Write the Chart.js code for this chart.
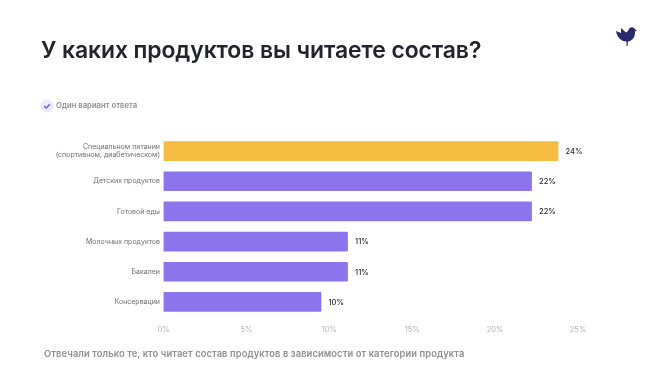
<!DOCTYPE html>
<html lang="ru">
<head>
<meta charset="utf-8">
<title>У каких продуктов вы читаете состав?</title>
<script src="https://cdn.jsdelivr.net/npm/chart.js@4"></script>
<style>
    html, body { margin: 0; padding: 0; background: #fff; }
    #wrap { position: relative; width: 650px; height: 367px; overflow: hidden; font-family: Inter, sans-serif; }
    #myChart { position: absolute; left: 0; top: 0; }
    #title { position: absolute; left: 41px; top: 36px; font-size: 22.9px; font-weight: 600; letter-spacing: -0.08px; color: #24242c; white-space: nowrap; }
    #note { position: absolute; left: 56px; top: 101px; font-size: 7.7px; font-weight: 600; color: #8e8e96; white-space: nowrap; }
    #foot { position: absolute; left: 44px; top: 348px; font-size: 9.4px; font-weight: 600; letter-spacing: 0.08px; color: #8f8f95; white-space: nowrap; }
    #check { position: absolute; left: 40px; top: 99px; }
    #logo { position: absolute; left: 615px; top: 26px; }
</style>
</head>
<body>
<div id="wrap">
    <canvas id="myChart" width="650" height="367"></canvas>
    <div id="title">У каких продуктов вы читаете состав?</div>
    <svg id="check" width="14" height="14" viewBox="0 0 14 14">
        <circle cx="7" cy="7" r="6.5" fill="#ece9fb"></circle>
        <path d="M4.2 7 L6.2 9 L9.8 5.2" fill="none" stroke="#6f5bd0" stroke-width="1.5"></path>
    </svg>
    <div id="note">Один вариант ответа</div>
    <svg id="logo" width="22" height="21" viewBox="0 0 22 21">
        <path d="M1 5 L6 7 L6 2 L11 6.5 L13 5 C14 0.5 19 0 20 3.5 L22 4.5 L20 5.5 C20.5 11 17 15 13 15.5 L12.5 20 L11.5 20 L11.5 15.5 C6 15.5 2 11 1 5 Z" fill="#2a2a6e"></path>
    </svg>
    <div id="foot">Отвечали только те, кто читает состав продуктов в зависимости от категории продукта</div>
</div>
<script>
const categories = [
    ['Специальном питании', '(спортивном, диабетическом)'],
    'Детских продуктов',
    'Готовой еды',
    'Молочных продуктов',
    'Бакалеи',
    'Консервации'
];
const values = [23.8, 22.2, 22.2, 11.1, 11.1, 9.5];
const valueLabels = ['24%', '22%', '22%', '11%', '11%', '10%'];
const barColors = ['#f4bc41', '#8b74ec', '#8b74ec', '#8b74ec', '#8b74ec', '#8b74ec'];

// подписи значений справа от баров
const barLabels = {
    id: 'barLabels',
    afterDatasetsDraw(chart) {
        const ctx = chart.ctx;
        const bars = chart.getDatasetMeta(0).data;
        ctx.save();
        ctx.font = '500 7.5px Inter, sans-serif';
        ctx.fillStyle = '#2b2b33';
        ctx.textBaseline = 'middle';
        for (let i = 0; i < bars.length; i++) {
            ctx.fillText(valueLabels[i], bars[i].x + 7.5, bars[i].y + 0.5);
        }
        ctx.restore();
    }
};

new Chart(document.getElementById('myChart'), {
    type: 'bar',
    plugins: [barLabels],
    data: {
        labels: categories,
        datasets: [{
            data: values,
            backgroundColor: barColors,
            barThickness: 19,
            borderRadius: 1
        }]
    },
    options: {
        indexAxis: 'y',
        responsive: false,
        animation: false,
        layout: { padding: { top: 136, right: 72, left: 0, bottom: 0 } },
        plugins: {
            legend: { display: false },
            title: { display: false },
            tooltip: { enabled: false }
        },
        scales: {
            x: {
                min: 0,
                max: 25,
                grid: { display: false, drawTicks: false },
                border: { display: false },
                afterFit(scale) { scale.height = 50; },
                ticks: {
                    stepSize: 5,
                    maxRotation: 0,
                    padding: 8,
                    color: '#b4b4ba',
                    font: { family: 'Inter, sans-serif', size: 7.5 },
                    callback: function (v) { return v + '%'; }
                }
            },
            y: {
                grid: { display: false, drawTicks: false },
                border: { display: false },
                afterFit(scale) { scale.width = 163.5; },
                ticks: {
                    padding: 3.5,
                    color: '#6f6f76',
                    font: { family: 'Inter, sans-serif', size: 7, lineHeight: 1.15 }
                }
            }
        }
    }
});
</script>
</body>
</html>
